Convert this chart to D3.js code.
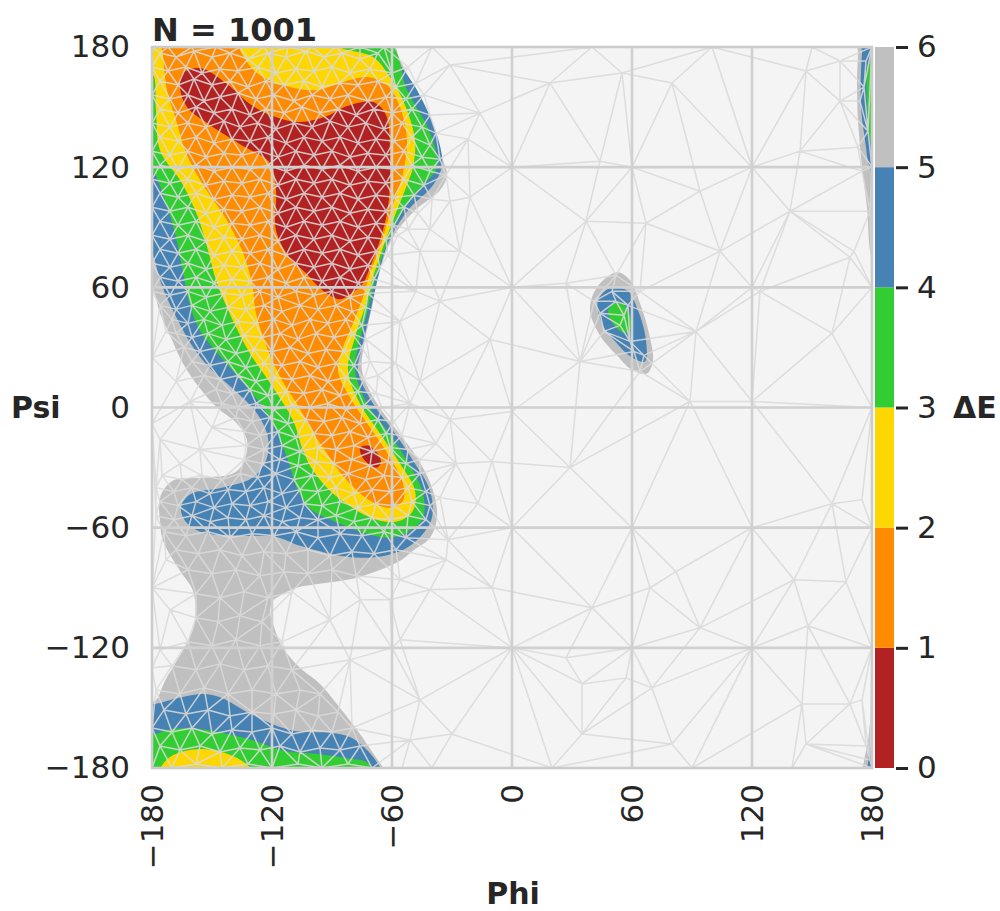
<!DOCTYPE html>
<html>
<head>
<meta charset="utf-8">
<script src="https://cdn.jsdelivr.net/npm/d3@7"></script>
<style>
  body { margin: 0; background: #ffffff; }
  text { font-family: "DejaVu Sans", sans-serif; fill: #262626; }
</style>
</head>
<body>
<div id="canvas"></div>
<script>
// DATA (phi, psi in degrees)
const title = "N = 1001";
const phiTicks = [-180, -120, -60, 0, 60, 120, 180];
const psiTicks = [-180, -120, -60, 0, 60, 120, 180];
const energyTicks = [0, 1, 2, 3, 4, 5, 6];

// contour outlines, one array per filled region (points outside the frame get clipped)
const grayMain = [[-183,183],[-61,183],[-56,173.5],[-48.5,158.5],[-40,138.5],[-34.5,123.5],[-32.5,116],[-36,108.5],[-48.5,98.5],[-59.5,85],[-66,68.5],[-70,50],[-73.5,33.5],[-75,18.5],[-67.5,2],[-57.5,-11.5],[-47.5,-25],[-39.5,-41.5],[-37.5,-55],[-41,-65],[-49.5,-71.5],[-56,-76.5],[-77.5,-85],[-92.5,-87.5],[-107.5,-90],[-116,-94],[-119.5,-96.5],[-121,-101.5],[-120,-106.5],[-114.5,-120],[-106,-130],[-96,-138],[-86,-150],[-76,-163],[-65,-179],[-61,-184],[-183,-184],[-183,-146.5],[-178.5,-146.5],[-173.5,-136.5],[-162,-116.5],[-158.5,-106.5],[-159.5,-91.5],[-166,-81.5],[-174.5,-66.5],[-176,-56.5],[-176,-45],[-169.5,-36.5],[-152.5,-35],[-139.5,-33],[-134.5,-28],[-132.5,-16.5],[-137.5,-8],[-147.5,0],[-156,9.5],[-164.5,22],[-171,36],[-176,47],[-179.5,58.5],[-183,61]];
const grayRightTop = [[173,183],[183,183],[183,72.5],[180,75],[177.5,100],[175,120],[173,143.5],[172.5,163.5],[173,177]];
const grayRightBottom = [[180,-155.5],[183,-155.5],[183,-184],[175,-184],[176,-176.5],[178,-166.5]];
const grayIsland = [[52.5,67.5],[42.5,60],[39,48.5],[44,36],[52.5,26],[60.5,18.5],[67.5,17],[70.5,23.5],[68.5,37],[64,52],[59,63.5]];

const blueMain = [[-183,183],[-60.5,183],[-59.5,177],[-47.5,158.5],[-37.5,136],[-35,121],[-39.5,111],[-52,98.5],[-62,82],[-67,65],[-71,47],[-75,30],[-77,18.5],[-69.5,2],[-59.5,-11.5],[-49.5,-26.5],[-41,-41.5],[-40,-55],[-44.5,-63],[-52.5,-70],[-63.5,-74],[-76,-75],[-86,-74],[-106,-69],[-118.5,-64.5],[-136,-64],[-156,-62],[-163.5,-56.5],[-165.5,-50],[-161,-43.5],[-144.5,-40],[-129.5,-35],[-123,-26.5],[-122,-15],[-127.5,-3],[-138.5,8.5],[-151,19.5],[-160,31],[-167.5,44.5],[-172,53.5],[-176,63.5],[-180,76],[-183,76]];
const blueLower = [[-183,-148],[-178.5,-148],[-167,-145],[-155,-143],[-145,-145],[-133.5,-151.5],[-120,-158],[-108.5,-161.5],[-90,-162.5],[-80,-165],[-72,-171.5],[-67,-178],[-64.5,-184],[-183,-184]];
const blueRightTop = [[175,183],[183,183],[183,113.5],[179,119.5],[176.5,133.5],[174.5,150],[174.5,168.5],[175,177]];
const blueRightBottom = [[179.5,-169],[183,-169],[183,-184],[177,-184],[178,-177.5]];
const blueIsland = [[49,59.5],[43,53.5],[45,42],[52.5,32],[60,25],[66.5,23],[67,33.5],[63,48.5],[57.5,58.5]];

const greenMain = [[-183,183],[-62.5,183],[-52.5,158.5],[-41,137],[-37.5,120],[-44.5,111],[-54.5,98.5],[-62.5,82],[-68.5,63.5],[-72.5,47],[-77,30],[-78.5,18.5],[-72.5,2],[-62.5,-11.5],[-52.5,-26.5],[-44.5,-43],[-44.5,-55],[-51,-61.5],[-61,-65],[-72.5,-63],[-89.5,-56.5],[-101,-50.5],[-107,-41.5],[-112.5,-25],[-119.5,-8],[-131,8.5],[-145,24.5],[-156,38.5],[-161,51],[-165,70],[-168.5,87],[-173.5,103.5],[-179.5,117.5],[-183,118.5]];
const greenLower = [[-183,-163],[-178.5,-163],[-170,-160.5],[-157,-160.5],[-142,-163],[-128.5,-166.5],[-113.5,-171.5],[-97,-173],[-83.5,-175],[-72,-177.5],[-69,-184],[-183,-184]];
const greenRightTop = [[178,171],[180,173.5],[181,128.5],[179,133.5],[177.5,151]];
const greenIsland = [[51.5,52],[48,48],[50.5,42],[56.5,37],[59.5,39.5],[58.5,47],[55,52]];

const yellowMain = [[-183,183],[-87.5,183],[-86,180],[-69.5,175],[-61,165],[-53.5,151],[-48.5,133.5],[-49.5,120],[-52,112.5],[-57.5,98.5],[-64.5,80],[-70,63.5],[-73.5,50],[-78.5,35],[-82,18.5],[-76,2],[-66,-13],[-56,-28],[-48.5,-41.5],[-49.5,-51.5],[-56,-56.5],[-66,-56.5],[-77.5,-51.5],[-89.5,-43],[-99.5,-31.5],[-104.5,-21.5],[-109.5,-6.5],[-119.5,10],[-131,27],[-140,44.5],[-147.5,62],[-152,78.5],[-157,95],[-165,112],[-176,128.5],[-178,148.5],[-179.5,166],[-183,166]];
const yellowLower = [[-177,-184],[-175.5,-179.5],[-171,-174.5],[-163.5,-171.5],[-154.5,-170.5],[-143.5,-172.5],[-133.5,-177.5],[-128.5,-184]];

const orangeMain = [[-175,183],[-137.5,183],[-136,178.5],[-127.5,167],[-111,160],[-97.5,158.5],[-86,162],[-72.5,165],[-62.5,161],[-56,150],[-52.5,133.5],[-54.5,117],[-57,108.5],[-61,97],[-66,80],[-71,67],[-74.5,55],[-79.5,42],[-84.5,30],[-87,18.5],[-81,5],[-71,-10],[-61,-25],[-54.5,-38],[-54.5,-46.5],[-61,-50],[-71,-46.5],[-82.5,-36.5],[-92.5,-23],[-101,-10],[-107,1],[-113.5,11],[-122,28.5],[-128,47],[-130,62],[-135,78.5],[-143.5,95],[-155,112],[-163.5,128.5],[-167.5,142],[-172.5,158.5],[-174.5,176]];

const redMain = [[-164.5,167],[-156,169.5],[-142.5,161.5],[-131,151.5],[-119.5,145.5],[-106,142.5],[-92.5,145.5],[-82.5,150.5],[-69.5,152.5],[-63,146],[-61,125],[-62,100],[-66,83.5],[-71,70],[-74.5,62],[-81,56.5],[-86,54],[-92,56.5],[-96,59.5],[-103.5,67.5],[-111,74.5],[-118,88.5],[-118,108.5],[-121,122],[-136,131.5],[-152.5,142],[-162.5,150],[-166,159.5]];
const redSmall = [[-76,-20],[-72,-19],[-67.5,-22.5],[-65.5,-27.5],[-67.5,-30],[-72,-28],[-75,-24.5]];

// sample points of the triangulated mesh
const meshDense = [
  [-180,180],[-172,180],[-160,180],[-148,180],[-136,180],[-124,180],[-112,180],[-100,180],[-88,180],[-76,180],[-64,180],
  [-176,177],[-168,175],[-159,178],[-150,175],[-141,177],[-132,174],[-122,177],[-113,175],[-103,178],[-94,175],[-85,177],[-76,174],[-67,177],
  [-180,170],[-172,168],[-163,170],[-155,167],[-146,169],[-137,168],[-127,170],[-118,167],[-108,169],[-99,168],[-90,170],[-81,167],[-71,169],[-60,167],[-52,170],
  [-176,163],[-167,161],[-159,164],[-150,161],[-141,163],[-132,160],[-123,163],[-114,161],[-104,163],[-95,160],[-86,162],[-77,161],[-67,163],[-58,160],[-48,162],
  [-180,156],[-171,154],[-162,156],[-154,153],[-146,155],[-137,157],[-128,154],[-119,156],[-109,153],[-100,156],[-91,154],[-82,156],[-72,153],[-63,155],[-53,154],[-44,156],
  [-176,149],[-167,147],[-158,150],[-149,147],[-140,149],[-131,146],[-123,149],[-114,147],[-105,150],[-96,147],[-87,149],[-78,146],[-69,149],[-60,147],[-50,149],[-41,146],
  [-180,142],[-171,140],[-162,142],[-153,140],[-144,143],[-136,140],[-127,142],[-118,139],[-109,142],[-100,140],[-91,143],[-82,140],[-73,142],[-64,139],[-55,142],[-45,140],[-38,137],
  [-176,135],[-167,133],[-158,135],[-149,132],[-140,134],[-131,133],[-122,135],[-113,132],[-104,135],[-95,133],[-86,135],[-77,132],[-68,134],[-59,133],[-50,135],[-41,131],
  [-180,128],[-171,126],[-162,128],[-153,125],[-144,127],[-135,126],[-126,128],[-117,125],[-108,128],[-99,126],[-90,128],[-81,125],[-72,127],[-63,126],[-54,128],[-45,125],[-36,124],
  [-176,121],[-167,119],[-158,121],[-149,118],[-140,120],[-131,119],[-122,121],[-113,118],[-104,121],[-95,119],[-86,121],[-77,118],[-68,120],[-59,119],[-50,121],[-41,118],[-33,116],
  [-180,114],[-171,112],[-162,114],[-153,111],[-144,113],[-135,112],[-126,114],[-117,111],[-108,114],[-99,112],[-90,114],[-81,111],[-72,113],[-63,112],[-54,114],[-44,111],
  [-176,107],[-167,105],[-158,107],[-149,104],[-140,106],[-131,105],[-122,107],[-113,104],[-104,107],[-95,105],[-86,107],[-77,104],[-68,106],[-59,105],[-49,106],[-40,104],
  [-180,100],[-171,98],[-162,100],[-153,97],[-144,99],[-135,98],[-126,100],[-117,97],[-108,100],[-99,98],[-90,100],[-81,97],[-72,99],[-63,98],[-54,100],[-47,97],
  [-176,93],[-167,91],[-158,93],[-149,90],[-140,92],[-131,91],[-122,93],[-113,90],[-104,93],[-95,91],[-86,93],[-77,90],[-68,92],[-59,91],[-52,89],
  [-180,86],[-171,84],[-162,86],[-153,83],[-144,85],[-135,84],[-126,86],[-117,83],[-108,86],[-99,84],[-90,86],[-81,83],[-72,85],[-63,84],[-57,86],
  [-176,79],[-167,77],[-158,79],[-149,76],[-140,78],[-131,77],[-122,79],[-113,76],[-104,79],[-95,77],[-86,79],[-77,76],[-68,78],[-62,76],
  [-180,72],[-171,70],[-162,72],[-153,69],[-144,71],[-135,70],[-126,72],[-117,69],[-108,72],[-99,70],[-90,72],[-81,69],[-72,71],[-66,70],
  [-176,65],[-167,63],[-158,65],[-149,62],[-140,64],[-131,63],[-122,65],[-113,62],[-104,65],[-95,63],[-86,65],[-77,62],[-69,64],
  [-180,58],[-171,56],[-162,58],[-153,55],[-144,57],[-135,56],[-126,58],[-117,55],[-108,58],[-99,56],[-90,58],[-81,55],[-72,57],
  [-176,51],[-168,49],[-160,51],[-151,48],[-142,50],[-133,49],[-124,51],[-115,48],[-106,51],[-97,49],[-88,51],[-80,48],[-73,50],
  [-170,44],[-162,42],[-154,44],[-145,41],[-137,43],[-128,42],[-119,44],[-110,41],[-101,44],[-92,42],[-83,44],[-75,41],
  [-168,37],[-160,35],[-152,37],[-143,34],[-134,36],[-125,35],[-116,37],[-107,34],[-98,37],[-89,35],[-80,37],[-73,34],
  [-164,30],[-156,28],[-147,30],[-138,27],[-129,29],[-120,28],[-111,30],[-102,27],[-93,29],[-84,28],[-75,30],
  [-160,23],[-151,21],[-142,23],[-133,20],[-124,22],[-115,21],[-106,23],[-97,20],[-88,22],[-79,21],[-71,23],
  [-154,16],[-146,14],[-137,16],[-128,13],[-119,15],[-110,14],[-101,16],[-92,13],[-83,15],[-74,14],[-67,16],
  [-148,9],[-140,7],[-131,9],[-122,6],[-113,8],[-104,7],[-95,9],[-86,6],[-77,8],[-68,7],
  [-145,2],[-137,0],[-128,2],[-119,-1],[-110,1],[-101,0],[-92,2],[-83,-1],[-74,1],[-65,0],
  [-138,-5],[-130,-7],[-121,-5],[-112,-8],[-103,-6],[-94,-7],[-85,-5],[-76,-8],[-67,-6],[-59,-7],
  [-134,-12],[-126,-14],[-117,-12],[-108,-15],[-99,-13],[-90,-14],[-81,-12],[-72,-15],[-63,-13],[-55,-14],
  [-133,-19],[-124,-21],[-115,-19],[-106,-22],[-97,-20],[-88,-21],[-79,-19],[-70,-22],[-61,-20],[-52,-21],
  [-134,-26],[-125,-28],[-116,-26],[-107,-29],[-98,-27],[-89,-28],[-80,-26],[-71,-29],[-62,-27],[-53,-28],[-46,-26],
  [-175,-34],[-165,-36],[-155,-34],[-145,-36],[-136,-33],[-127,-35],[-118,-33],[-109,-36],[-100,-34],[-91,-35],[-82,-33],[-73,-36],[-64,-34],[-55,-35],[-46,-33],
  [-178,-40],[-169,-42],[-160,-40],[-151,-43],[-142,-41],[-133,-42],[-124,-40],[-115,-43],[-106,-41],[-97,-42],[-88,-40],[-79,-43],[-70,-41],[-61,-42],[-52,-40],[-43,-42],
  [-176,-47],[-167,-49],[-158,-47],[-149,-50],[-140,-48],[-131,-49],[-122,-47],[-113,-50],[-104,-48],[-95,-49],[-86,-47],[-77,-50],[-68,-48],[-59,-49],[-50,-47],[-41,-49],
  [-178,-54],[-169,-56],[-160,-54],[-151,-57],[-142,-55],[-133,-56],[-124,-54],[-115,-57],[-106,-55],[-97,-56],[-88,-54],[-79,-57],[-70,-55],[-61,-56],[-52,-54],[-43,-56],
  [-174,-62],[-163,-64],[-152,-62],[-141,-65],[-130,-63],[-119,-64],[-108,-62],[-97,-65],[-86,-63],[-75,-64],[-64,-62],[-53,-65],
  [-168,-71],[-157,-73],[-146,-71],[-135,-74],[-124,-72],[-113,-73],[-102,-71],[-91,-74],[-80,-72],[-69,-73],[-58,-71],
  [-162,-81],[-150,-83],[-138,-81],[-126,-84],[-114,-82],[-102,-83],[-90,-81],[-78,-84],
  [-158,-93],[-146,-95],[-134,-92],[-122,-95],[-110,-92],
  [-158,-105],[-147,-107],[-136,-104],[-125,-107],
  [-162,-117],[-150,-119],[-138,-116],[-126,-119],[-115,-117],
  [-170,-129],[-158,-131],[-146,-128],[-134,-131],[-122,-129],[-110,-131],
  [-178,-141],[-166,-143],[-154,-140],[-142,-143],[-130,-141],[-118,-143],[-106,-141],[-96,-143],
  [-174,-151],[-163,-153],[-152,-151],[-141,-154],[-130,-152],[-119,-153],[-108,-151],[-97,-154],[-87,-152],
  [-180,-160],[-170,-162],[-160,-160],[-150,-163],[-140,-161],[-130,-162],[-120,-160],[-110,-163],[-100,-161],[-90,-162],[-80,-160],
  [-176,-169],[-166,-171],[-156,-169],[-146,-172],[-136,-170],[-126,-171],[-116,-169],[-106,-172],[-96,-170],[-86,-171],[-76,-169],
  [-180,-180],[-170,-180],[-158,-178],[-145,-180],[-132,-178],[-120,-180],[-107,-178],[-95,-180],[-82,-178],[-70,-180]
];
const meshSparse = [
  [-31,171],[19,162],[-16,147],[80,162],[147,168],[164,173],[55,167],[0,120],[-22,134],[120,120],[37,93],[67,92],
  [104,78],[139,98],[160,37],[0,60],[-21,105],[27,62],[92,38],[169,75],[-11,34],[164,153],[-10,-27],[29,-30],
  [0,-2],[120,3],[160,-48],[175,-46],[-36,-45],[-17,-48],[-32,-66],[-10,-90],[40,-100],[0,-120],[60,-60],[82,-82],
  [69,-90],[94,-110],[141,-86],[167,-87],[148,-109],[120,-120],[27,-125],[35,-138],[70,-140],[57,-135],[-30,-163],
  [35,-163],[80,-168],[145,-148],[169,-148],[147,-168],[175,-146],[44,123],[94,108],[144,128],[124,58],[89,3],
  [34,23],[120,60],[60,120],[0,-60],[120,-60],[60,-120],[-60,-120],
  [52,53],[46,38],[61,28],[56,46],[64,58],[41,53],[50,58],[44,47],[54,41],[59,33],[66,26],[58,51],[64,18],[52,66],[70,22],
  [177,173],[174,153],[178,138],[175,118],[179,98],[171,78],[177,-169],[179,-176],[176,160],[173,130],
  [-173,38],[-161,3],[-176,-16],[-156,-21],[-168,13],[-180,25],[-180,-8],[-166,-28],[-150,-10],
  [-173,-76],[-171,-101],[-176,-121],[-180,-90],[-180,-130],
  [-91,-106],[-76,-96],[-56,-116],[-46,-146],[-61,-96],[-51,-166],[-41,-91],[-81,-126],
  [-46,78],[-56,43],[-46,13],[-31,-6],[-36,53],[-26,78],[-31,103],[-41,89],[-48,58],[-58,22],[-51,2],[-38,-18],
  [-28,-28],[-33,-76],[-56,-86],
  [180,180],[180,-180],[-40,180],[40,180],[100,180],[150,180],[180,120],[180,60],[180,0],[180,-60],[180,-120],
  [-40,-180],[20,-180],[90,-180],[140,-180],[-55,-180]
];

function drawChart() {

  // DIMENSIONS
  const width = 1000;
  const height = 911;
  const margin = { top: 47, left: 152 };
  const plot_width = 720;
  const plot_height = 721;

  const svg = d3.select("#canvas").append("svg")
    .attr("width", width)
    .attr("height", height);

  svg.append("defs").append("clipPath").attr("id", "plotClip")
    .append("rect")
    .attr("x", margin.left).attr("y", margin.top)
    .attr("width", plot_width).attr("height", plot_height);

  // SCALES
  const x = d3.scaleLinear([-180, 180], [margin.left, margin.left + plot_width]);
  const y = d3.scaleLinear([-180, 180], [margin.top + plot_height, margin.top]);
  const color = d3.scaleThreshold()
    .domain([1, 2, 3, 4, 5])
    .range(["#b22222", "#ff8c00", "#ffd700", "#32cd32", "#4682b4", "#c0c0c0"]);

  // BACKGROUND
  svg.append("rect")
    .attr("x", margin.left).attr("y", margin.top)
    .attr("width", plot_width).attr("height", plot_height)
    .attr("fill", "#f4f4f4");

  const plot = svg.append("g").attr("clip-path", "url(#plotClip)");

  // CONTOUR FILLS, outer levels first
  const regions = [
    { level: 5.5, rings: [grayMain, grayRightTop, grayRightBottom, grayIsland] },
    { level: 4.5, rings: [blueMain, blueLower, blueRightTop, blueRightBottom, blueIsland] },
    { level: 3.5, rings: [greenMain, greenLower, greenRightTop, greenIsland] },
    { level: 2.5, rings: [yellowMain, yellowLower] },
    { level: 1.5, rings: [orangeMain] },
    { level: 0.5, rings: [redMain, redSmall] }
  ];

  const ring = d3.line()
    .x(d => x(d[0]))
    .y(d => y(d[1]))
    .curve(d3.curveCatmullRomClosed.alpha(0.5));

  plot.selectAll("g.level")
    .data(regions)
    .join("g")
    .attr("class", "level")
    .attr("fill", d => color(d.level))
    .selectAll("path")
    .data(d => d.rings)
    .join("path")
    .attr("d", ring);

  // TRIANGULATION MESH
  const meshPoints = meshDense.concat(meshSparse);
  const delaunay = d3.Delaunay.from(meshPoints, d => x(d[0]), d => y(d[1]));
  plot.append("path")
    .attr("d", delaunay.render())
    .attr("fill", "none")
    .attr("stroke", "#dadada")
    .attr("stroke-opacity", 0.88)
    .attr("stroke-width", 1.5);

  // GRID
  plot.selectAll("line.vgrid")
    .data(phiTicks.slice(1, -1))
    .join("line")
    .attr("x1", d => x(d)).attr("x2", d => x(d))
    .attr("y1", margin.top).attr("y2", margin.top + plot_height)
    .attr("stroke", "#d0d0d0").attr("stroke-width", 2.6);

  plot.selectAll("line.hgrid")
    .data(psiTicks.slice(1, -1))
    .join("line")
    .attr("y1", d => y(d)).attr("y2", d => y(d))
    .attr("x1", margin.left).attr("x2", margin.left + plot_width)
    .attr("stroke", "#d0d0d0").attr("stroke-width", 2.6);

  svg.append("rect")
    .attr("x", margin.left).attr("y", margin.top)
    .attr("width", plot_width).attr("height", plot_height)
    .attr("fill", "none")
    .attr("stroke", "#cccccc")
    .attr("stroke-width", 2.6);

  // AXES
  const yAxis = svg.append("g")
    .attr("transform", `translate(${margin.left},0)`)
    .call(d3.axisLeft(y).tickValues(psiTicks).tickSize(0).tickPadding(22));

  const xAxis = svg.append("g")
    .attr("transform", `translate(0,${margin.top + plot_height})`)
    .call(d3.axisBottom(x).tickValues(phiTicks).tickSize(0));

  xAxis.selectAll("text")
    .attr("transform", "rotate(-90)")
    .attr("x", -16)
    .attr("y", 0)
    .attr("dy", "0.35em")
    .attr("text-anchor", "end");

  [xAxis, yAxis].forEach(ax => {
    ax.select(".domain").remove();
    ax.selectAll("text")
      .style("font-family", "DejaVu Sans")
      .style("font-size", "31px")
      .attr("fill", "#262626");
  });

  // COLORBAR
  const yC = d3.scaleLinear([0, 6], [margin.top + plot_height, margin.top]);
  svg.append("g")
    .selectAll("rect")
    .data(d3.pairs(energyTicks))
    .join("rect")
    .attr("x", 875)
    .attr("width", 19)
    .attr("y", d => yC(d[1]))
    .attr("height", d => yC(d[0]) - yC(d[1]))
    .attr("fill", d => color((d[0] + d[1]) / 2));

  const cAxis = svg.append("g")
    .attr("transform", "translate(896,0)")
    .call(d3.axisRight(yC).tickValues(energyTicks).tickFormat(d3.format("d")).tickSize(12).tickPadding(9));
  cAxis.select(".domain").remove();
  cAxis.selectAll("line").attr("stroke", "#262626").attr("stroke-width", 3);
  cAxis.selectAll("text")
    .style("font-family", "DejaVu Sans")
    .style("font-size", "31px")
    .attr("fill", "#262626");

  // LABELS
  svg.append("text")
    .attr("x", margin.left)
    .attr("y", 41)
    .style("font-size", "32px")
    .style("font-weight", "bold")
    .text(title);

  svg.append("text")
    .attr("x", 11)
    .attr("y", 407)
    .attr("dominant-baseline", "central")
    .style("font-size", "30px")
    .style("font-weight", "bold")
    .text("Psi");

  svg.append("text")
    .attr("x", 513)
    .attr("y", 904)
    .attr("text-anchor", "middle")
    .style("font-size", "30px")
    .style("font-weight", "bold")
    .text("Phi");

  svg.append("text")
    .attr("x", 953)
    .attr("y", 407)
    .attr("dominant-baseline", "central")
    .style("font-size", "30px")
    .style("font-weight", "bold")
    .text("ΔE");
}

drawChart();
</script>
</body>
</html>
